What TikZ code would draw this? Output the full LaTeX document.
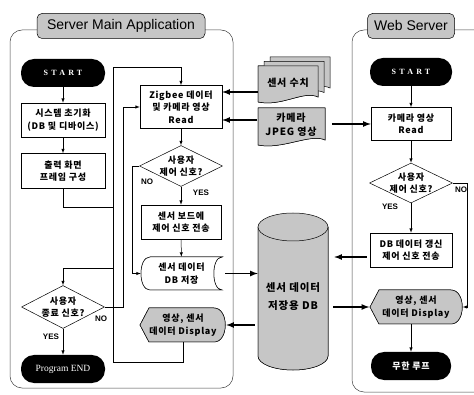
\documentclass[tikz,border=0pt]{standalone}
\usepackage{fontspec}
\setmainfont{Noto Sans CJK KR}
\newfontfamily\boxfont{Noto Sans CJK KR}[LetterSpace=8]
\newfontfamily\latinfont{Liberation Sans}
\newfontfamily\termfont{Liberation Serif}
\usetikzlibrary{shapes.geometric}

\newcommand{\boxtext}{\fontsize{9}{12.5}\boxfont\bfseries}
\newcommand{\doctext}{\fontsize{10}{14}\boxfont\bfseries}
\newcommand{\dbtext}{\fontsize{10.5}{18}\boxfont\bfseries}
\newcommand{\lbltext}{\fontsize{8}{9}\latinfont\bfseries}

% document with a wavy bottom: x1 y1 x2 y2
\newcommand{\docshape}[4]{%
  \draw[fill=gray!45] (#1,#2) -- (#3,#2) -- (#3,#4-5)
    .. controls (#3-14,#4-12) and (#1+24,#4+5) .. (#1,#4) -- cycle;}
% display: pointed left, round right
\newcommand{\dispshape}[4]{%
  \draw[fill=gray!45] (#1,{(#2+#4)/2}) -- (#1+9,#2) -- (#3-12,#2)
    .. controls (#3+3,#2) and (#3+3,#4) .. (#3-12,#4) -- (#1+9,#4) -- cycle;}
% stored data
\newcommand{\storeshape}[4]{%
  \draw[fill=white] (#1+9,#2) -- (#3,#2) .. controls (#3-11,#2) and (#3-11,#4) .. (#3,#4)
    -- (#1+9,#4) .. controls (#1-3,#4) and (#1-3,#2) .. (#1+9,#2) -- cycle;}

\tikzset{
  procbox/.style={draw, fill=white, inner sep=1pt, align=center, font=\boxtext},
  termbox/.style={fill=black, text=white, rounded corners=13, minimum width=84,
    minimum height=28, inner sep=1pt},
  decbox/.style={draw, fill=white, diamond, aspect=2, inner sep=-6pt,
    minimum width=83, minimum height=41, align=center, font=\boxtext},
  plainbox/.style={inner sep=0pt, align=center, font=\boxtext},
  titlebox/.style={draw, fill=gray!45, rounded corners=5, minimum height=25,
    font=\fontsize{14}{16}\latinfont},
  frameline/.style={black!75, rounded corners=12},
  data/.style={->, line width=1.6pt},
  lbl/.style={font=\lbltext, inner sep=0pt}
}

\begin{document}
\begin{tikzpicture}[x=1pt, y=-1pt, >=latex, line width=0.5pt]
\useasboundingbox (0,0) rectangle (474,395);

\draw[frameline] (10,30) rectangle (233,388);
\draw[frameline] (480,30) -- (352,30) -- (352,392) -- (480,392);
\node (titleMain) at (121,26) [titlebox, minimum width=168] {Server Main Application};
\node (titleWeb) at (411,26) [titlebox, minimum width=87] {Web Server};

% shapes without a node shape of their own
\foreach \o in {12,6}
    \docshape{258+\o}{66-0.75*\o}{318+\o}{102-0.75*\o}
\docshape{258}{66}{318}{102}
\docshape{258}{108}{325}{145}
\dispshape{140}{308}{226}{342}
\dispshape{370}{290}{463}{324}
\storeshape{141}{257}{222}{290}
\draw[fill=gray!45] (258,227) -- (258,356) arc[start angle=180, end angle=0, x radius=35, y radius=14] -- (328,227);
\draw[fill=gray!45] (293,227) ellipse[x radius=35, y radius=14];

% server main application
\node (startMain) at (63,73) [termbox, font=\fontsize{8}{9}\termfont\bfseries\addfontfeature{LetterSpace=40}] {START};
\node (initSys) at (63,120) [procbox, minimum width=84, minimum height=34] {시스템 초기화\\(DB 및 디바이스)};
\node (frameOut) at (63,171) [procbox, minimum width=84, minimum height=35] {출력 화면\\프레임 구성};
\node (readZig) at (181,107) [procbox, minimum width=82, minimum height=43] {Zigbee 데이터\\및 카메라 영상\\Read};
\node (ctrlMain) at (181,166) [decbox] {사용자\\제어 신호?};
\node (sendCtrl) at (181,222) [procbox, minimum width=80, minimum height=34] {센서 보드에\\제어 신호 전송};
\node (saveDB) at (181.5,273.5) [plainbox, minimum width=81, minimum height=33] {센서 데이터\\DB 저장};
\node (showMain) at (183,325) [plainbox, minimum width=86, minimum height=34] {영상, 센서\\데이터 Display};
\node (quitMain) at (63,307) [decbox, minimum height=43] {사용자\\종료 신호?};
\node (endMain) at (63,369) [termbox, font=\fontsize{9.5}{10}\termfont] {Program END};

% data
\node (sensVal) at (288,83) [plainbox, minimum width=60, minimum height=36, font=\doctext] {센서 수치};
\node (camJpeg) at (291,125) [plainbox, minimum width=67, minimum height=37, font=\doctext] {카메라\\JPEG 영상};
\node (sensDB) at (293,297) [plainbox, minimum width=70, minimum height=150, font=\dbtext] {센서 데이터\\저장용 DB};

% web server
\node (startWeb) at (411,72) [termbox, minimum width=82, font=\fontsize{8}{9}\termfont\bfseries\addfontfeature{LetterSpace=40}] {START};
\node (readCam) at (411,124) [procbox, minimum width=80, minimum height=33] {카메라 영상\\Read};
\node (ctrlWeb) at (411,183) [decbox, minimum height=40] {사용자\\제어 신호?};
\node (updDB) at (411,250) [procbox, minimum width=82, minimum height=34] {DB 데이터 갱신\\제어 신호 전송};
\node (showWeb) at (416,307) [plainbox, minimum width=93, minimum height=34] {영상, 센서\\데이터 Display};
\node (loopWeb) at (411,366) [termbox, minimum width=80, font=\boxtext] {무한 루프};

\node (noMain) at (147,182) [lbl] {NO};
\node (yesMain) at (201,193) [lbl] {YES};
\node (noQuit) at (101,319) [lbl] {NO};
\node (yesQuit) at (51,337) [lbl] {YES};
\node (yesWeb) at (390,207) [lbl] {YES};
\node (noWeb) at (461,190) [lbl] {NO};

\draw[->] (startMain) -- (initSys);
\draw[->] (initSys) -- (frameOut);
\draw[->] (frameOut.south) |- (113,207) -- (113,67) -| (readZig.north);
\draw[->] (readZig) -- (ctrlMain);
\draw[->] (ctrlMain) -- (sendCtrl);
\draw[->] (ctrlMain.west) -- (132,166) |- (saveDB.west);
\draw[->] (sendCtrl) -- (saveDB);
\draw (showMain.south) |- (113,362) -- (113,207);
\draw[->] (113,268) -| (quitMain.north);
\draw[->] (quitMain.east) -- (123,307) |- (readZig.west);
\draw[->] (quitMain) -- (endMain);

\draw[->] (startWeb) -- (readCam);
\draw[->] (readCam) -- (ctrlWeb);
\draw[->] (ctrlWeb) -- (updDB);
\draw[->] (ctrlWeb.east) -- (467,183) |- (showWeb.east);
\draw[->] (showWeb.south -| loopWeb.north) -- (loopWeb.north);

\coordinate (inSens) at ([yshift=15pt]readZig.east);
\coordinate (inCam) at ([yshift=-13pt]readZig.east);
\coordinate (outUpd) at ([yshift=-7pt]updDB.west);
\draw[data] (sensVal.west |- inSens) -- (inSens);
\draw[data] (camJpeg.west |- inCam) -- (inCam);
\draw[data, shorten <=7pt] (camJpeg.east |- readCam.west) -- (readCam.west);
\draw[data, shorten <=3pt] (saveDB.east) -- (sensDB.west |- saveDB.east);
\draw[data, shorten <=3pt] (sensDB.west |- showMain.east) -- (showMain.east);
\draw[data, shorten <=3pt, shorten >=6pt] (outUpd) -- (sensDB.east |- outUpd);
\draw[data, shorten <=5pt] (sensDB.east |- showWeb.west) -- (showWeb.west);

\end{tikzpicture}
\end{document}
